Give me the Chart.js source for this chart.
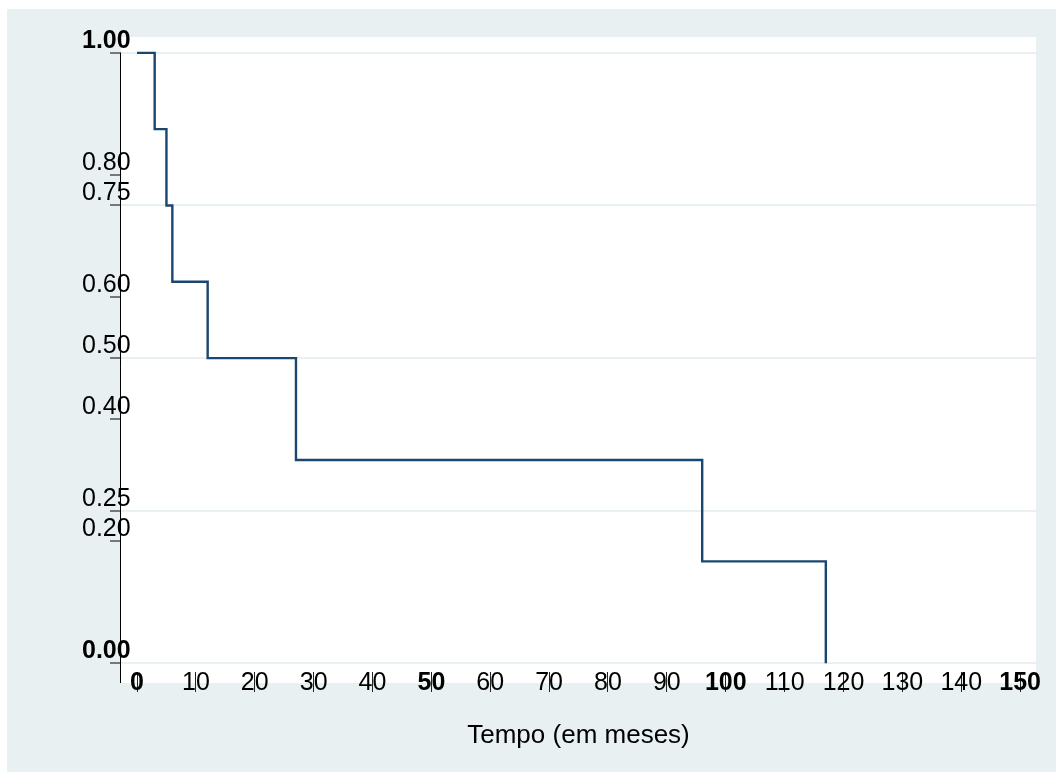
<!DOCTYPE html>
<html>
<head>
<meta charset="utf-8">
<title>Tempo (em meses)</title>
<script src="https://cdn.jsdelivr.net/npm/chart.js@4.4.1/dist/chart.umd.min.js"></script>
<style>
  html, body { margin: 0; padding: 0; background: #fff; }
</style>
</head>
<body>
<canvas id="myChart" width="1056" height="772"></canvas>
<script>
// survival estimate, time in months
var times = [0, 3, 5, 6, 12, 27, 96, 117]
var survival = [1, 0.875, 0.75, 0.625, 0.5, 0.333, 0.167, 0]
// the picture has two sets of ticks drawn over each other
var xTicks = [0, 10, 20, 30, 40, 50, 60, 70, 80, 90, 100, 110, 120, 130, 140, 150]
var xBold = [0, 50, 100, 150]
var yTicks = [0, 0.2, 0.25, 0.4, 0.5, 0.6, 0.75, 0.8, 1]
var yGrid = [0, 0.25, 0.5, 0.75, 1]
var yBold = [0, 1]
var xTitle = 'Tempo (em meses)'

var bg = '#E8F0F2'
var navy = '#1A476F'
var family = '"Liberation Sans", Arial, sans-serif'

var points = []
for (var i = 0; i < times.length; i++) {
  points.push({ x: times[i], y: survival[i] })
}

// gray frame, white plot region, y axis line
var frame = {
  id: 'frame',
  beforeDraw: function (chart) {
    var ctx = chart.ctx
    var a = chart.chartArea
    ctx.save()
    ctx.fillStyle = '#fff'
    ctx.fillRect(0, 0, chart.width, chart.height)
    ctx.fillStyle = bg
    ctx.fillRect(7, 9, chart.width - 7, chart.height - 9)
    ctx.fillStyle = '#fff'
    ctx.fillRect(a.left, a.top, a.right - a.left, a.bottom - a.top + 11)
    ctx.restore()
  },
  afterDraw: function (chart) {
    var ctx = chart.ctx
    var a = chart.chartArea
    var y = chart.scales.y
    ctx.save()
    ctx.strokeStyle = '#000'
    ctx.lineWidth = 1
    ctx.beginPath()
    ctx.moveTo(a.left - 0.5, y.getPixelForValue(1))
    ctx.lineTo(a.left - 0.5, a.bottom + 11)
    ctx.stroke()
    ctx.restore()
  }
}

/* eslint-disable no-unused-vars, no-undef */
var myChart = new Chart(document.getElementById('myChart'), {
  type: 'line',
  data: {
    datasets: [{
      data: points,
      stepped: 'before',
      borderColor: navy,
      borderWidth: 2.4,
      pointRadius: 0,
      fill: false
    }]
  },
  options: {
    responsive: false,
    animation: false,
    layout: { padding: { top: 37, right: 20, left: 0, bottom: 0 } },
    plugins: { legend: { display: false }, tooltip: { enabled: false } },
    scales: {
      x: {
        type: 'linear',
        min: -2.72,
        max: 152.7,
        afterBuildTicks: function (s) { s.ticks = xTicks.map(v => ({ value: v })) },
        afterFit: function (s) { s.height = 100 },
        border: { display: false },
        grid: { drawOnChartArea: false, tickLength: 20, tickWidth: 1, tickColor: '#222' },
        ticks: {
          color: '#000',
          padding: -24,
          maxRotation: 0,
          autoSkip: false,
          font: function (c) {
            return { family: family, size: 25, weight: xBold.indexOf(c.tick && c.tick.value) >= 0 ? 'bold' : 'normal' }
          }
        },
        title: {
          display: true,
          text: xTitle,
          color: '#000',
          font: { family: family, size: 26 },
          padding: { top: 0, bottom: 21 }
        }
      },
      y: {
        min: -0.01426,
        max: 1.026,
        afterBuildTicks: function (s) { s.ticks = yTicks.map(v => ({ value: v })) },
        afterFit: function (s) { s.width = 121 },
        border: { display: false },
        grid: {
          lineWidth: 2,
          tickLength: 11,
          tickWidth: 1,
          tickColor: '#000',
          color: function (c) {
            return c.tick && yGrid.indexOf(c.tick.value) >= 0 ? bg : 'rgba(0,0,0,0)'
          }
        },
        ticks: {
          color: '#000',
          mirror: true,
          padding: -39,
          labelOffset: -12,
          autoSkip: false,
          callback: function (v) { return v.toFixed(2) },
          font: function (c) {
            return { family: family, size: 25, weight: yBold.indexOf(c.tick && c.tick.value) >= 0 ? 'bold' : 'normal' }
          }
        }
      }
    }
  },
  plugins: [frame]
})
</script>
</body>
</html>
